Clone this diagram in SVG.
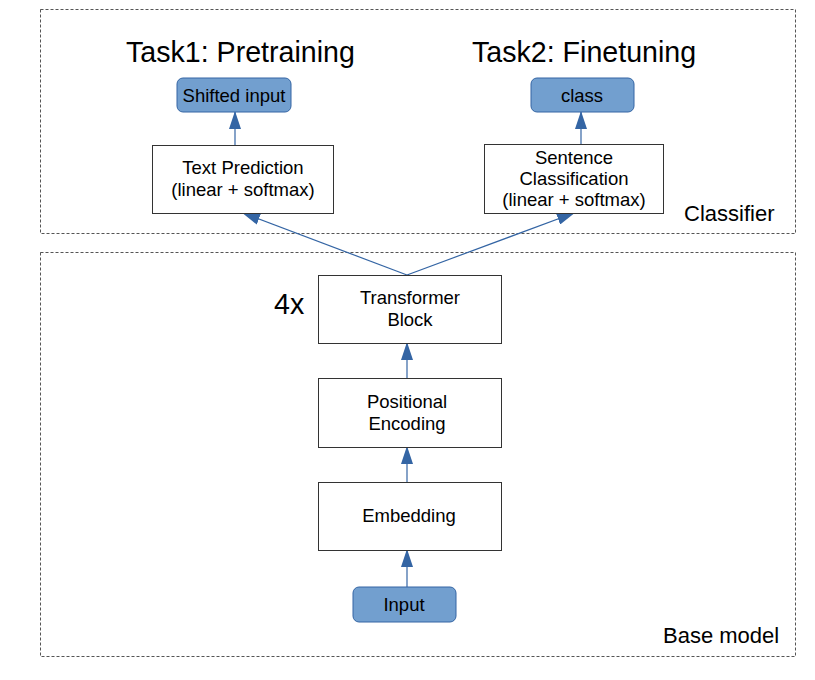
<svg xmlns="http://www.w3.org/2000/svg" width="815" height="680" viewBox="0 0 815 680">
<style>
text{font-family:"Liberation Sans",Arial,sans-serif;fill:#000}
.frame{fill:none;stroke:#555;stroke-width:1;stroke-dasharray:3,2}
.box{fill:#fff;stroke:#333;stroke-width:1}
.io{fill:#729fcf;stroke:#3465a4;stroke-width:1}
.lbl{font-size:18.5px;text-anchor:middle}
.big{font-size:28.6px}
.cap{font-size:22px}
.edge{fill:none;stroke:#3465a4;stroke-width:1.2}
</style>
<defs>
<marker id="ah" viewBox="0 0 18 12" refX="17" refY="6" markerWidth="18" markerHeight="12" markerUnits="userSpaceOnUse" orient="auto">
<path d="M0,0 L18,6 L0,12 Z" fill="#3465a4"/>
</marker>
</defs>
<rect class="frame" x="40.5" y="9.5" width="755" height="224"/>
<rect class="frame" x="40.5" y="252.5" width="755" height="404"/>
<text class="big" x="126" y="62">Task1: Pretraining</text>
<text class="big" x="472" y="62">Task2: Finetuning</text>
<text class="big" x="274" y="314">4x</text>
<text class="cap" x="684" y="221">Classifier</text>
<text class="cap" x="663" y="643">Base model</text>
<g id="edges">
<line class="edge" x1="235" y1="145" x2="235" y2="112" marker-end="url(#ah)"/>
<line class="edge" x1="581" y1="144" x2="581" y2="112" marker-end="url(#ah)"/>
<line class="edge" x1="407" y1="275" x2="243" y2="213" marker-end="url(#ah)"/>
<line class="edge" x1="407" y1="275" x2="574" y2="213" marker-end="url(#ah)"/>
<line class="edge" x1="407" y1="378" x2="407" y2="343" marker-end="url(#ah)"/>
<line class="edge" x1="407" y1="482" x2="407" y2="447" marker-end="url(#ah)"/>
<line class="edge" x1="407" y1="587" x2="407" y2="550" marker-end="url(#ah)"/>
</g>
<g id="shifted">
<rect class="io" x="177" y="78" width="114" height="34" rx="6"/>
<text class="lbl" x="234" y="102">Shifted input</text>
</g>
<g id="class">
<rect class="io" x="531" y="78" width="103" height="34" rx="6"/>
<text class="lbl" x="582" y="102">class</text>
</g>
<g id="textpred">
<rect class="box" x="152.5" y="145.5" width="181" height="68"/>
<text class="lbl" x="243" y="174">Text Prediction</text>
<text class="lbl" x="243" y="196">(linear + softmax)</text>
</g>
<g id="sentcls">
<rect class="box" x="484.5" y="144.5" width="179" height="69"/>
<text class="lbl" x="574" y="164">Sentence</text>
<text class="lbl" x="574" y="185">Classification</text>
<text class="lbl" x="574" y="206">(linear + softmax)</text>
</g>
<g id="transformer">
<rect class="box" x="318.5" y="275.5" width="183" height="68"/>
<text class="lbl" x="410" y="304">Transformer</text>
<text class="lbl" x="410" y="326">Block</text>
</g>
<g id="posenc">
<rect class="box" x="318.5" y="378.5" width="183" height="69"/>
<text class="lbl" x="407" y="408">Positional</text>
<text class="lbl" x="407" y="430">Encoding</text>
</g>
<g id="embedding">
<rect class="box" x="318.5" y="482.5" width="183" height="68"/>
<text class="lbl" x="409" y="522">Embedding</text>
</g>
<g id="input">
<rect class="io" x="353" y="587" width="103" height="35" rx="6"/>
<text class="lbl" x="404" y="611">Input</text>
</g>
</svg>
